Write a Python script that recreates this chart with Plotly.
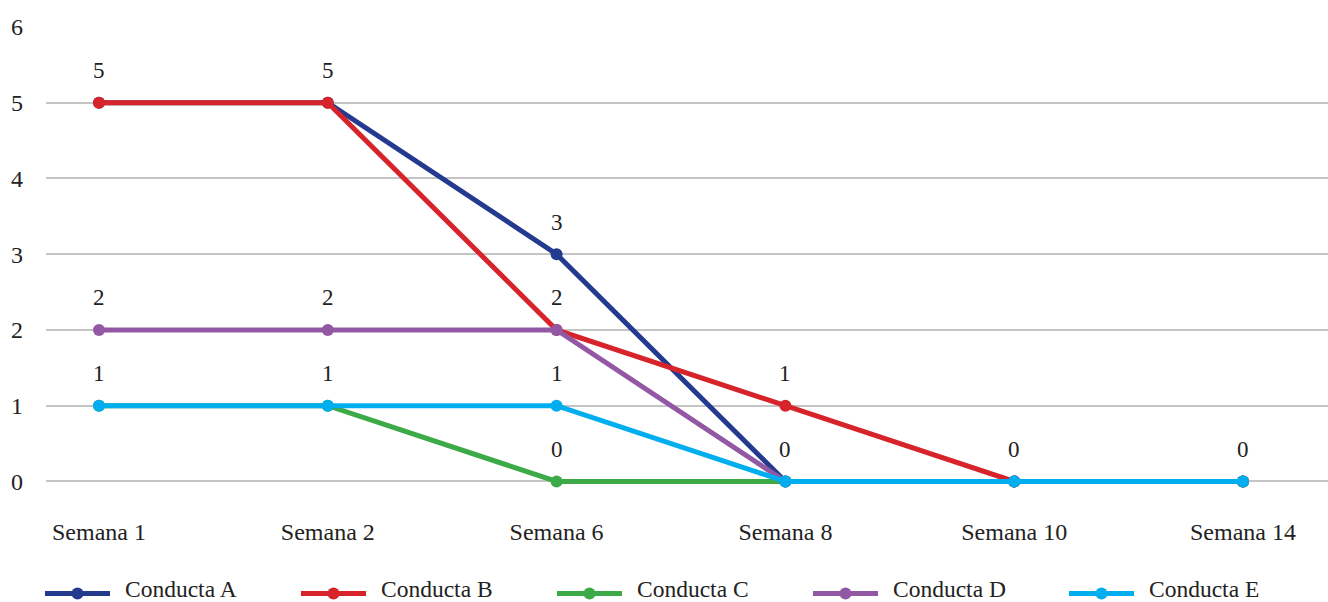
import plotly.graph_objects as go

semanas = ["Semana 1", "Semana 2", "Semana 6", "Semana 8", "Semana 10", "Semana 14"]
conducta_a = [5, 5, 3, 0, 0, 0]
conducta_b = [5, 5, 2, 1, 0, 0]
conducta_c = [1, 1, 0, 0, 0, 0]
conducta_d = [2, 2, 2, 0, 0, 0]
conducta_e = [1, 1, 1, 0, 0, 0]
nombres = ["Conducta A", "Conducta B", "Conducta C", "Conducta D", "Conducta E"]
colores = ["#243A8E", "#D7242B", "#3DAA48", "#9358A4", "#00AEEF"]
y_ticks = [0, 1, 2, 3, 4, 5, 6]

series = [conducta_a, conducta_b, conducta_c, conducta_d, conducta_e]
FONT = "Liberation Serif, 'Times New Roman', Times, serif"
TXT = "#222222"

W, H = 1328, 602
L, R, T = 46, 0, 27
PX_UNIT = (481 - 27) / 6
YMIN, YMAX = -0.1, 6
plot_h = (YMAX - YMIN) * PX_UNIT
B = H - T - plot_h
plot_w = W - L - R

fig = go.Figure()
for nombre, vals, col in zip(nombres, series, colores):
    fig.add_trace(go.Scatter(
        x=semanas, y=vals, name=nombre, mode="lines+markers",
        line=dict(color=col, width=5),
        marker=dict(color=col, size=12),
        cliponaxis=False, showlegend=False, hoverinfo="skip",
    ))

# data labels (one per distinct position)
seen = set()
annotations = []
for vals in series:
    for i, v in enumerate(vals):
        if (i, v) in seen:
            continue
        seen.add((i, v))
        annotations.append(dict(
            x=semanas[i], y=v, text=str(v), showarrow=False,
            yshift=32, font=dict(family=FONT, size=23, color=TXT),
        ))

# custom legend (long line swatches with a dot)
shapes = []
def px_x(p):
    return (p - L) / plot_w
def px_y(p):
    return (T + plot_h - p) / plot_h
leg_text_y = px_y(588)
leg_line_y = px_y(593)
for k, (nombre, col) in enumerate(zip(nombres, colores)):
    x0 = 45 + k * 256
    shapes.append(dict(type="line", xref="paper", yref="paper",
                       x0=px_x(x0), x1=px_x(x0 + 65), y0=leg_line_y, y1=leg_line_y,
                       line=dict(color=col, width=5)))
    shapes.append(dict(type="circle", xref="paper", yref="paper",
                       xsizemode="pixel", ysizemode="pixel",
                       xanchor=px_x(x0 + 32.5), yanchor=leg_line_y,
                       x0=-6, x1=6, y0=-6, y1=6,
                       fillcolor=col, line=dict(width=0)))
    annotations.append(dict(xref="paper", yref="paper", x=px_x(x0 + 79), y=leg_text_y,
                            xanchor="left", yanchor="middle", text=nombre,
                            showarrow=False, borderpad=0,
                            font=dict(family=FONT, size=23.5, color=TXT)))

px_per_cat = (1243 - 99) / 5
left = -(99 - L) / px_per_cat
right = 5 + (W - R - 1243) / px_per_cat

fig.update_layout(
    width=W, height=H,
    margin=dict(l=L, r=R, t=T, b=B, autoexpand=False),
    paper_bgcolor="white", plot_bgcolor="white",
    font=dict(family=FONT, size=24, color=TXT),
    annotations=annotations, shapes=shapes,
    showlegend=False, hovermode=False,
    xaxis=dict(
        type="category", categoryorder="array", categoryarray=semanas,
        range=[left, right], showgrid=False, zeroline=False, showline=False,
        ticks="", ticklabelstandoff=26,
        tickfont=dict(family=FONT, size=24, color=TXT),
    ),
    yaxis=dict(
        range=[YMIN, YMAX], tickvals=y_ticks, showgrid=True, gridcolor="#C4C4C4",
        gridwidth=2, zeroline=False, showline=False, ticks="",
        ticklabelstandoff=22,
        tickfont=dict(family=FONT, size=24, color=TXT),
    ),
)

fig.write_html(
    "out.html",
    config={"displayModeBar": False, "staticPlot": True},
    post_script="document.body.style.margin='0';document.body.style.overflow='hidden';",
)
